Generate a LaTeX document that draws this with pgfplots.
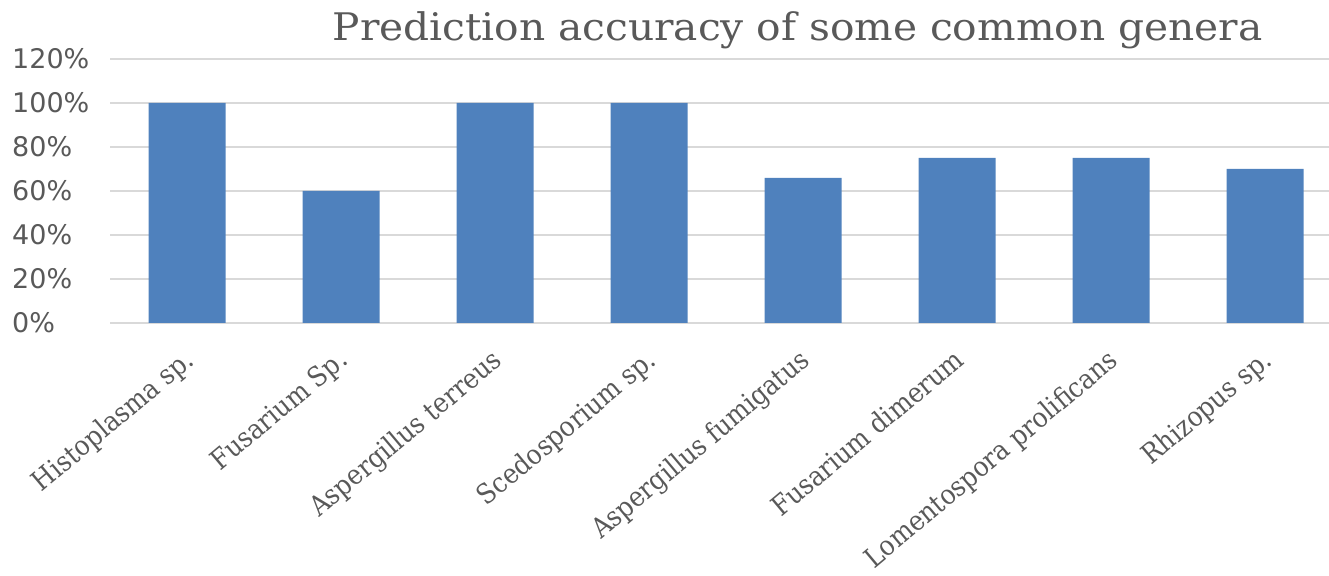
\documentclass[border=0pt]{standalone}
\usepackage{pgfplots}
\pgfplotsset{compat=1.18}
\usepackage{fontspec}
\setmainfont{DejaVu Serif Condensed}
\newfontfamily\tickfont{DejaVu Sans}
\newfontfamily\labfont{DejaVu Serif Condensed}
\definecolor{barblue}{HTML}{4F81BD}
\definecolor{txtgray}{HTML}{595959}
\definecolor{gridgray}{HTML}{D9D9D9}
\begin{document}
\begin{tikzpicture}
\useasboundingbox (0,0) rectangle (1329pt,575pt);
\begin{axis}[
  at={(110pt,252pt)}, anchor=south west,
  scale only axis, width=1219pt, height=264pt,
  xmin=-0.5, xmax=7.415, ymin=0, ymax=120,
  axis line style={draw=none},
  ymajorgrids, grid style={gridgray, line width=1.5pt},
  major tick length=0pt,
  xtick=data,
  xticklabels={Histoplasma sp., Fusarium Sp., Aspergillus terreus, Scedosporium sp., Aspergillus fumigatus, Fusarium dimerum, Lomentospora prolificans, Rhizopus sp.},
  xticklabel style={font=\labfont\fontsize{27.5}{32}\selectfont, text=txtgray, xshift=-5pt, yshift=-24pt, rotate=40, anchor=north east, inner sep=0pt},
  ytick={0,20,...,120},
  yticklabels={0\%,20\%,40\%,60\%,80\%,100\%,120\%},
  yticklabel style={font=\tickfont\fontsize{27}{32}\selectfont, text=txtgray, anchor=west, inner sep=0pt, xshift=-98pt},
  title={Prediction accuracy of some common genera},
  title style={font=\fontsize{38}{44}\selectfont, text=txtgray, at={(0.564,1)}, anchor=base, yshift=12pt, xscale=1.19},
  clip=false,
]
\addplot[ybar, bar width=0.5, fill=barblue, draw=none] coordinates {
(0,100) (1,60) (2,100) (3,100) (4,66) (5,75) (6,75) (7,70)
};
\end{axis}
\end{tikzpicture}
\end{document}
